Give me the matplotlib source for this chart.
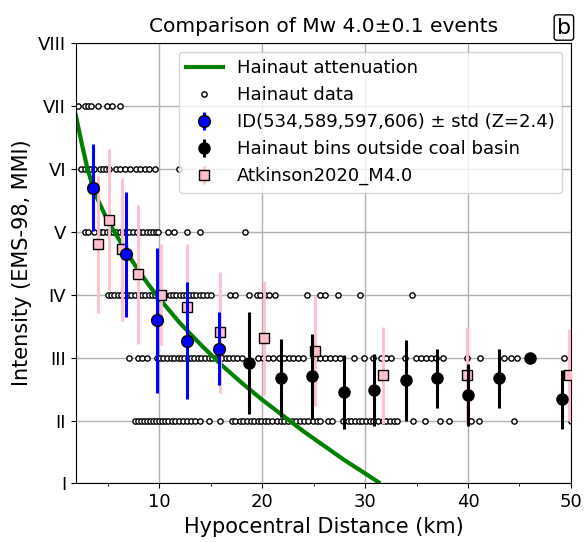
import matplotlib
matplotlib.use("Agg")
import matplotlib.pyplot as plt

# Attenuation curve
att_r = [1.9, 2.0, 2.5, 3.0, 3.5, 4.0, 5.0, 6.0, 7.0, 8.0, 9.0, 10.0, 12.0, 14.0,
         16.0, 18.0, 20.0, 22.0, 24.0, 26.0, 28.0, 30.0, 31.3]
att_i = [6.85, 6.77, 6.38, 6.02, 5.74, 5.52, 5.17, 4.90, 4.63, 4.38, 4.15, 3.94,
         3.55, 3.21, 2.89, 2.60, 2.33, 2.08, 1.83, 1.60, 1.37, 1.16, 1.02]

# Hainaut data points, by intensity
d7 = [2.1, 2.8, 3.1, 3.4, 4.1, 4.9, 5.4, 6.2]
d6 = [2.4, 2.8, 3.1, 3.4, 3.7, 4.2, 4.5, 4.8, 5.1, 5.8, 6.2, 6.7, 7.2, 7.7, 8.1,
      8.6, 9.0, 9.6, 11.9]
d5 = [2.8, 3.1, 3.7, 4.2, 4.5, 4.9, 5.2, 5.5, 5.8, 6.2, 6.5, 6.8, 7.1, 7.5, 7.8,
      8.1, 8.4, 8.8, 9.1, 9.4, 9.7, 9.9, 10.9, 11.4, 12.7, 14.0, 18.3]
d4 = [5.0, 5.3, 5.6, 6.0, 6.3, 6.6, 7.0, 7.3, 7.6, 8.0, 8.3, 8.6, 9.0, 9.3, 9.6,
      10.0, 10.3, 10.6, 11.0, 11.3, 11.6, 12.0, 12.3, 12.6, 13.0, 13.3, 13.6,
      14.0, 14.3, 14.6, 15.0, 16.9, 17.4, 18.7, 19.5, 19.8, 20.3, 20.7, 21.2,
      24.4, 25.6, 26.1, 27.4, 29.5, 34.6]
d3 = [7.1, 7.9, 8.3, 8.8, 9.8, 10.1, 10.4, 10.8, 11.1, 11.4, 11.8, 12.1, 12.4,
      12.8, 13.1, 13.4, 13.8, 14.1, 14.4, 14.8, 15.1, 15.5, 15.8, 16.1, 16.5,
      16.8, 17.2, 17.6, 18.0, 19.6, 20.1, 20.6, 21.1, 21.6, 22.1, 22.6, 23.0,
      23.5, 24.0, 25.2, 25.6, 26.1, 26.6, 27.1, 27.6, 28.9, 29.9, 30.8, 31.5,
      32.0, 32.5, 33.9, 34.9, 35.4, 35.9, 36.4, 36.9, 37.6, 39.9, 41.2, 43.5,
      44.2, 44.8, 49.3]
d2 = [7.6, 7.9, 8.2, 8.5, 8.8, 9.1, 9.4, 9.7, 10.0, 10.3, 10.6, 10.9, 11.2, 11.5,
      11.9, 12.3, 12.7, 13.1, 13.5, 14.0, 14.8, 15.9, 17.1, 17.4, 17.8, 18.1,
      18.5, 18.9, 19.2, 19.6, 19.9, 20.3, 20.6, 21.0, 21.4, 21.8, 22.1, 22.5,
      22.9, 23.3, 23.7, 24.1, 24.5, 24.9, 25.3, 25.6, 26.4, 26.8, 27.9, 28.3,
      28.6, 29.0, 29.4, 29.7, 30.1, 30.5, 30.8, 31.3, 31.7, 32.0, 32.4, 32.8,
      33.1, 34.7, 35.8, 37.3, 38.2, 40.3, 41.1, 44.5, 50.0]

# ID(534,589,597,606) binned means
id_r = [3.57, 6.73, 9.75, 12.7, 15.78]
id_i = [5.70, 4.64, 3.59, 3.27, 3.14]
id_s = [0.69, 0.99, 1.15, 0.93, 0.58]

# Hainaut bins outside coal basin
hb_r = [18.76, 21.82, 24.84, 27.92, 30.9, 33.93, 37.0, 40.03, 43.05, 46.07, 49.09]
hb_i = [2.92, 2.67, 2.70, 2.45, 2.48, 2.64, 2.67, 2.40, 2.67, 3.0, 2.34]
hb_s = [0.81, 0.62, 0.67, 0.59, 0.57, 0.64, 0.47, 0.49, 0.47, 0.0, 0.47]

# Atkinson2020 M4.0
at_r = [4.06, 5.1, 6.34, 7.96, 10.14, 12.7, 15.94, 20.19, 25.16, 31.75, 39.93, 49.8]
at_i = [4.80, 5.19, 4.72, 4.32, 4.0, 3.81, 3.40, 3.31, 3.11, 2.72, 2.72, 2.72]
at_s = [1.09, 1.12, 1.14, 1.10, 0.80, 0.99, 0.96, 0.90, 0.88, 0.77, 0.77, 0.73]

roman = ["I", "II", "III", "IV", "V", "VI", "VII", "VIII"]

fig = plt.figure(figsize=(5.88, 5.42), dpi=100)
ax = fig.add_axes([0.129, 0.108, 0.842, 0.813])

rows = [(7, d7), (6, d6), (5, d5), (4, d4), (3, d3), (2, d2)]
xs, ys = [], []
for lvl, arr in rows:
    xs += arr
    ys += [lvl] * len(arr)
h_data, = ax.plot(xs, ys, 'o', ms=3.8, mfc='white', mec='k', mew=1.0,
                  ls='none', zorder=2, label='Hainaut data')

h_att, = ax.plot(att_r, att_i, '-', color='green', lw=3, zorder=2.5,
                 label='Hainaut attenuation')

h_at = ax.errorbar(at_r, at_i, yerr=at_s, fmt='s', ms=6.5, mfc='pink', mec='k',
                   mew=1.0, ecolor='pink', elinewidth=2, capsize=0, zorder=3,
                   label='Atkinson2020_M4.0')
h_id = ax.errorbar(id_r, id_i, yerr=id_s, fmt='o', ms=8.5, mfc='blue', mec='k',
                   mew=1.0, ecolor='blue', elinewidth=2.2, capsize=0, zorder=4,
                   label='ID(534,589,597,606) ± std (Z=2.4)')
h_hb = ax.errorbar(hb_r, hb_i, yerr=hb_s, fmt='o', ms=8, mfc='black', mec='k',
                   ecolor='black', elinewidth=2.2, capsize=0, zorder=4,
                   label='Hainaut bins outside coal basin')

ax.set_xlim(1.9, 50)
ax.set_ylim(1, 8)
ax.set_yticks(range(1, 9))
ax.set_yticklabels(roman)
ax.set_xticks([10, 20, 30, 40, 50])
ax.set_xticks([5, 15, 25, 35, 45], minor=True)
ax.tick_params(axis='both', labelsize=13)
ax.grid(True, which='major', color='#b0b0b0', lw=1)
ax.set_axisbelow(True)

ax.set_xlabel('Hypocentral Distance (km)', fontsize=15)
ax.set_ylabel('Intensity (EMS-98, MMI)', fontsize=15)
ax.set_title('Comparison of Mw 4.0±0.1 events', fontsize=14.5, pad=8)
ax.text(1.0, 1.012, 'b', transform=ax.transAxes, ha='right', va='bottom',
        fontsize=16, bbox=dict(boxstyle='round,pad=0.12', fc='white', ec='k'))

ax.legend([h_att, h_data, h_id, h_hb, h_at],
          [h_att.get_label(), h_data.get_label(), h_id.get_label(),
           h_hb.get_label(), h_at.get_label()],
          loc='upper right', fontsize=13, framealpha=0.8)

fig.savefig('out.png', dpi=100)
